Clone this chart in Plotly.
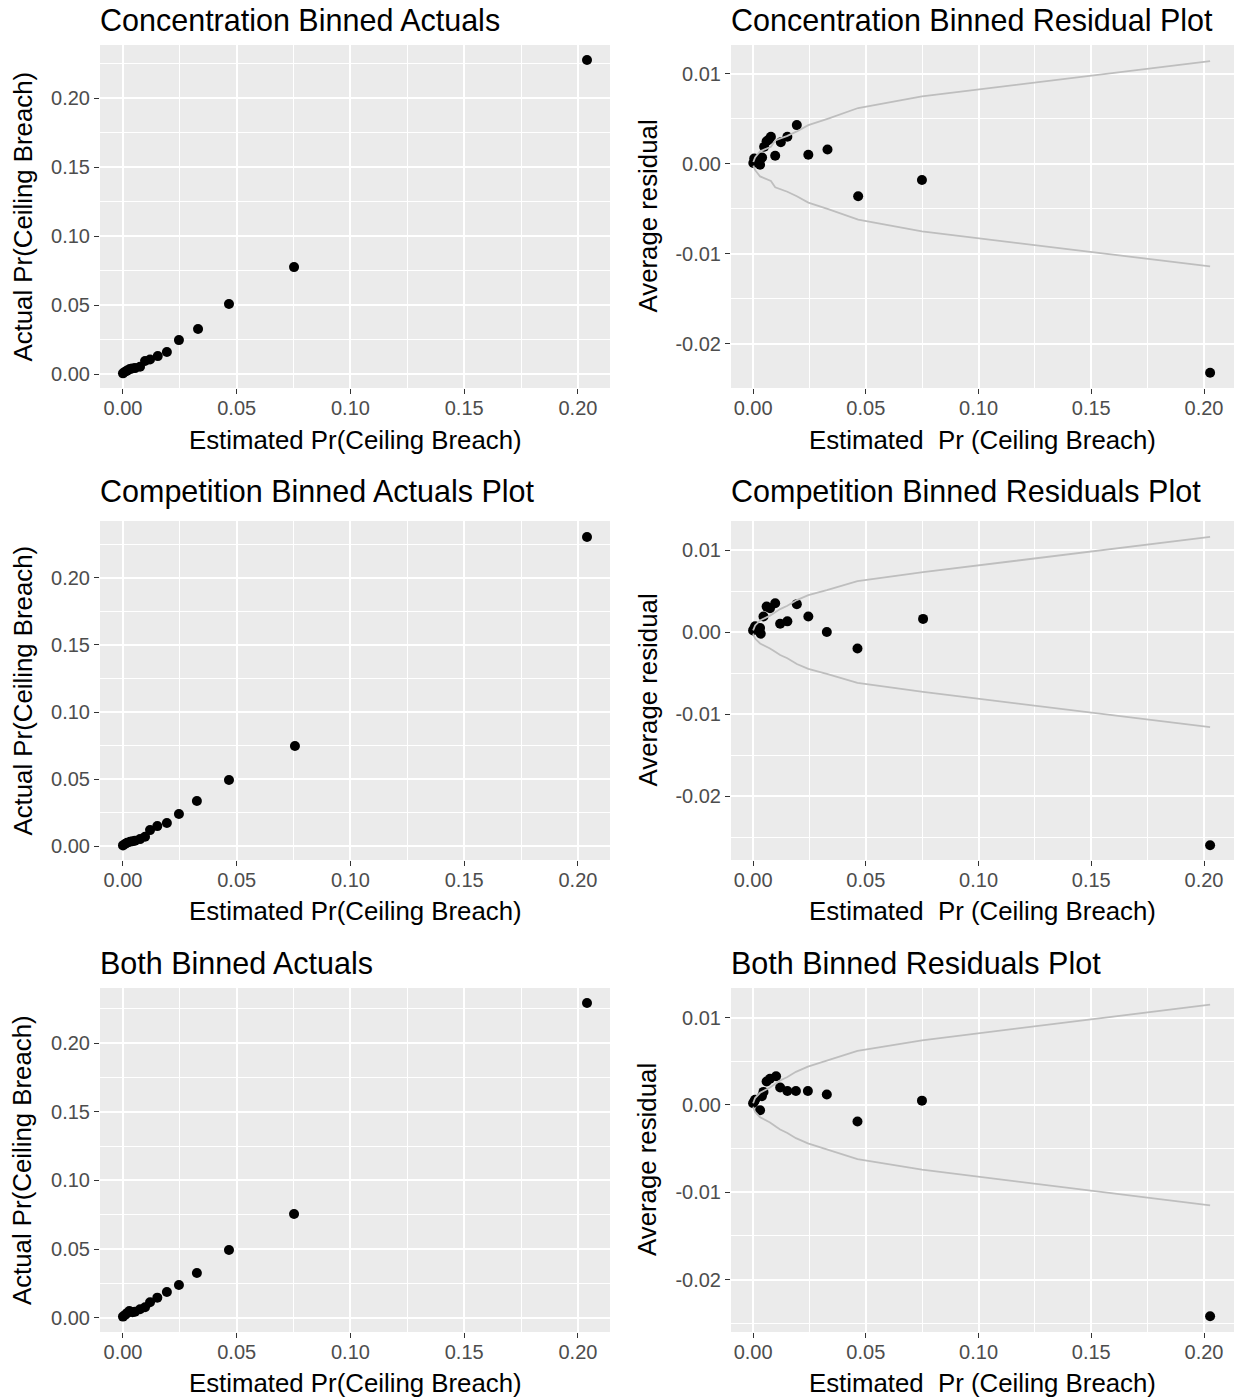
import plotly.graph_objects as go

W, H = 1241, 1399

# ---------------- data ----------------
x_tick_vals = [0.0, 0.05, 0.10, 0.15, 0.20]
x_tick_text = ["0.00", "0.05", "0.10", "0.15", "0.20"]
x_minor_vals = [0.025, 0.075, 0.125, 0.175]
act_tick_vals = [0.0, 0.05, 0.10, 0.15, 0.20]
act_tick_text = ["0.00", "0.05", "0.10", "0.15", "0.20"]
act_minor_vals = [0.025, 0.075, 0.125, 0.175, 0.225]
res_tick_vals = [0.01, 0.0, -0.01, -0.02]
res_tick_text = ["0.01", "0.00", "-0.01", "-0.02"]
res_minor_vals = [0.005, -0.005, -0.015, -0.025]

titles = ["Concentration Binned Actuals", "Concentration Binned Residual Plot",
          "Competition Binned Actuals Plot", "Competition Binned Residuals Plot",
          "Both Binned Actuals", "Both Binned Residuals Plot"]
x_title_act = "Estimated Pr(Ceiling Breach)"
x_title_res = "Estimated\u00a0 Pr (Ceiling Breach)"
y_title_act = "Actual Pr(Ceiling Breach)"
y_title_res = "Average residual"

# Concentration – binned actuals
conc_act_x = [0.0000, 0.0009, 0.0018, 0.0030, 0.0040, 0.0053, 0.0075, 0.0097, 0.0119, 0.0153, 0.0193, 0.0246, 0.0330, 0.0466, 0.0752, 0.2040]
conc_act_y = [0.0005, 0.0017, 0.0025, 0.0036, 0.0040, 0.0043, 0.0053, 0.0094, 0.0106, 0.0130, 0.0160, 0.0246, 0.0326, 0.0507, 0.0775, 0.2275]
# Concentration – binned residuals
conc_res_x = [0.0001, 0.0005, 0.0009, 0.0031, 0.0035, 0.0040, 0.0049, 0.0060, 0.0070, 0.0079, 0.0098, 0.0123, 0.0152, 0.0194, 0.0245, 0.0330, 0.0466, 0.0749, 0.2027]
conc_res_y = [0.0001, 0.0006, 0.0004, -0.0001, 0.0006, 0.0007, 0.0019, 0.0025, 0.0027, 0.0030, 0.0009, 0.0024, 0.0030, 0.0043, 0.0010, 0.0016, -0.0036, -0.0018, -0.0232]
conc_bnd_x = [0.0001, 0.0009, 0.0031, 0.0049, 0.0079, 0.0098, 0.0123, 0.0152, 0.0194, 0.0245, 0.0330, 0.0466, 0.0749, 0.2027]
conc_bnd_se = [0.0002, 0.0007, 0.0014, 0.0016, 0.0019, 0.0026, 0.0028, 0.0031, 0.0036, 0.0043, 0.0050, 0.0062, 0.0075, 0.0114]

# Competition – binned actuals
comp_act_x = [0.0000, 0.0009, 0.0018, 0.0031, 0.0042, 0.0053, 0.0075, 0.0097, 0.0119, 0.0151, 0.0193, 0.0246, 0.0325, 0.0466, 0.0756, 0.2040]
comp_act_y = [0.0005, 0.0015, 0.0025, 0.0032, 0.0036, 0.0040, 0.0052, 0.0070, 0.0119, 0.0149, 0.0172, 0.0239, 0.0336, 0.0493, 0.0746, 0.2306]
# Competition – binned residuals
comp_res_x = [0.0000, 0.0005, 0.0009, 0.0031, 0.0034, 0.0046, 0.0060, 0.0075, 0.0098, 0.0120, 0.0152, 0.0194, 0.0245, 0.0327, 0.0463, 0.0754, 0.2027]
comp_res_y = [0.0002, 0.0004, 0.0007, 0.0005, -0.0002, 0.0019, 0.0031, 0.0029, 0.0035, 0.0010, 0.0013, 0.0034, 0.0019, 0.0000, -0.0020, 0.0016, -0.0260]
comp_bnd_x = [0.0000, 0.0009, 0.0031, 0.0046, 0.0075, 0.0098, 0.0120, 0.0152, 0.0194, 0.0245, 0.0327, 0.0463, 0.0754, 0.2027]
comp_bnd_se = [0.0002, 0.0008, 0.0014, 0.0016, 0.0020, 0.0024, 0.0028, 0.0032, 0.0039, 0.0045, 0.0051, 0.0062, 0.0073, 0.0116]

# Both – binned actuals
both_act_x = [0.0000, 0.0009, 0.0018, 0.0028, 0.0042, 0.0053, 0.0075, 0.0097, 0.0119, 0.0151, 0.0193, 0.0246, 0.0325, 0.0466, 0.0752, 0.2040]
both_act_y = [0.0010, 0.0022, 0.0035, 0.0050, 0.0042, 0.0046, 0.0063, 0.0078, 0.0114, 0.0148, 0.0189, 0.0240, 0.0327, 0.0495, 0.0756, 0.2291]
# Both – binned residuals
both_res_x = [0.0000, 0.0005, 0.0009, 0.0031, 0.0039, 0.0046, 0.0060, 0.0075, 0.0102, 0.0120, 0.0152, 0.0190, 0.0243, 0.0327, 0.0463, 0.0749, 0.2027]
both_res_y = [0.0002, 0.0004, 0.0006, -0.0006, 0.0010, 0.0015, 0.0027, 0.0030, 0.0033, 0.0020, 0.0016, 0.0016, 0.0016, 0.0012, -0.0019, 0.0005, -0.0242]
both_bnd_x = [0.0000, 0.0009, 0.0031, 0.0046, 0.0075, 0.0102, 0.0120, 0.0152, 0.0190, 0.0243, 0.0327, 0.0463, 0.0749, 0.2027]
both_bnd_se = [0.0002, 0.0008, 0.0014, 0.0016, 0.0020, 0.0025, 0.0028, 0.0032, 0.0038, 0.0044, 0.0051, 0.0062, 0.0074, 0.0115]

# ---------------- layout helpers ----------------
FONT = "Liberation Sans, Arial, sans-serif"
TICK_FONT = dict(family=FONT, size=20, color="#4D4D4D")

def px(xp):
    return xp / W

def py(yp):
    return 1 - yp / H

rows = [(45, 388), (521, 860), (988, 1332)]
left_lr = (100, 610)
right_lr = (731, 1234)

x_range_act = [-0.0101, 0.2141]
x_range_res = [-0.0098, 0.2133]
y_ranges = [[-0.0101, 0.2384], [-0.0104, 0.2425], [-0.0102, 0.2400],
            [-0.0249, 0.0132], [-0.0278, 0.01354], [-0.0260, 0.0134]]


def axis(domain, rng, tv, tt, mv, anchor, standoff):
    return dict(domain=domain, range=rng, tickmode="array", tickvals=tv, ticktext=tt,
                showgrid=True, gridcolor="white", gridwidth=2.2, zeroline=False,
                showline=False, ticks="outside", ticklen=5, tickwidth=1.4,
                tickcolor="#333333", tickfont=TICK_FONT, anchor=anchor,
                ticklabelstandoff=standoff,
                minor=dict(tickmode="array", tickvals=mv, showgrid=True,
                           gridcolor="white", gridwidth=1.1, ticks=""),
                fixedrange=True)


fig = go.Figure()

panels = [
    (conc_act_x, conc_act_y, None, None),
    (conc_res_x, conc_res_y, conc_bnd_x, conc_bnd_se),
    (comp_act_x, comp_act_y, None, None),
    (comp_res_x, comp_res_y, comp_bnd_x, comp_bnd_se),
    (both_act_x, both_act_y, None, None),
    (both_res_x, both_res_y, both_bnd_x, both_bnd_se),
]

layout = {}
annotations = []
for i, (xs, ys, bx, bse) in enumerate(panels):
    n = i + 1
    xa = "x" if n == 1 else f"x{n}"
    ya = "y" if n == 1 else f"y{n}"
    row = i // 2
    is_res = (i % 2 == 1)
    top, bot = rows[row]
    l, r = right_lr if is_res else left_lr
    xdom = [px(l), px(r)]
    ydom = [py(bot), py(top)]
    suffix = "" if n == 1 else str(n)
    if is_res:
        layout["xaxis" + suffix] = axis(xdom, x_range_res, x_tick_vals, x_tick_text, x_minor_vals, ya, -3)
        layout["yaxis" + suffix] = axis(ydom, y_ranges[3 + row], res_tick_vals, res_tick_text, res_minor_vals, xa, 0)
    else:
        layout["xaxis" + suffix] = axis(xdom, x_range_act, x_tick_vals, x_tick_text, x_minor_vals, ya, -3)
        layout["yaxis" + suffix] = axis(ydom, y_ranges[row], act_tick_vals, act_tick_text, act_minor_vals, xa, 0)

    fig.add_trace(go.Scatter(x=xs, y=ys, mode="markers", xaxis=xa, yaxis=ya,
                             marker=dict(color="black", size=10), showlegend=False,
                             hoverinfo="skip"))
    if bx is not None:
        fig.add_trace(go.Scatter(x=bx, y=bse, mode="lines", xaxis=xa, yaxis=ya,
                                 line=dict(color="#BEBEBE", width=1.8), showlegend=False,
                                 hoverinfo="skip"))
        fig.add_trace(go.Scatter(x=bx, y=[-v for v in bse], mode="lines", xaxis=xa, yaxis=ya,
                                 line=dict(color="#BEBEBE", width=1.8), showlegend=False,
                                 hoverinfo="skip"))

    title_y = [20, 491, 963][row]
    annotations.append(dict(text=titles[i], x=px(l - 2), y=py(title_y), xref="paper", yref="paper",
                            xanchor="left", yanchor="middle", showarrow=False,
                            font=dict(family=FONT, size=30.5, color="black")))
    xt_y = [440, 911, 1383][row]
    annotations.append(dict(text=x_title_res if is_res else x_title_act,
                            x=px((l + r) / 2), y=py(xt_y), xref="paper", yref="paper",
                            xanchor="center", yanchor="middle", showarrow=False,
                            font=dict(family=FONT, size=25.8, color="black")))
    yt_x = 647 if is_res else 22
    annotations.append(dict(text=y_title_res if is_res else y_title_act,
                            x=px(yt_x), y=py((top + bot) / 2), xref="paper", yref="paper",
                            xanchor="center", yanchor="middle", showarrow=False, textangle=-90,
                            font=dict(family=FONT, size=25.8, color="black")))

fig.update_layout(**layout)
fig.update_layout(width=W, height=H, margin=dict(l=0, r=0, t=0, b=0),
                  plot_bgcolor="#EBEBEB", paper_bgcolor="white",
                  annotations=annotations, font=dict(family=FONT))

fig.write_html("out.html", post_script="document.body.style.margin='0';",
               config={"displayModeBar": False})
